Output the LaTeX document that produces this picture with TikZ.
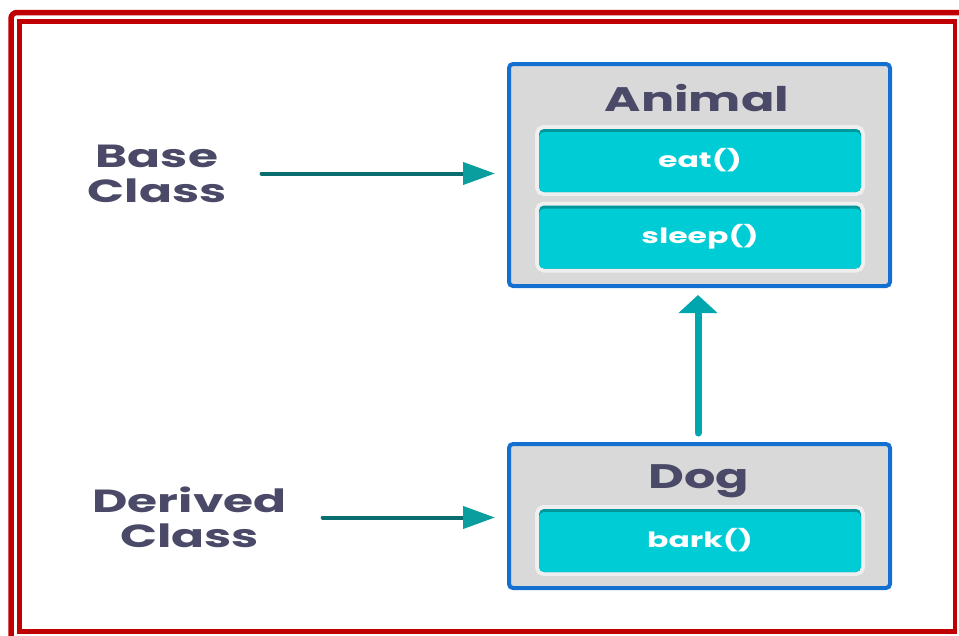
\documentclass[tikz,border=0pt]{standalone}
\usepackage{fontspec}
\setmainfont{Poppins}
\newfontfamily\titlefont[FakeStretch=1.45]{Poppins}
\newfontfamily\labelfont[FakeStretch=1.52]{Poppins}
\newfontfamily\methodfont[FakeStretch=1.5]{Poppins}
\usetikzlibrary{arrows.meta}

\definecolor{framered}{HTML}{C00000}
\definecolor{boxblue}{HTML}{1470D0}
\definecolor{boxgray}{HTML}{D9D9D9}
\definecolor{halo}{HTML}{EFEFEF}
\definecolor{cyanfill}{HTML}{00CCD6}
\definecolor{cyandark}{HTML}{00979C}
\definecolor{ink}{HTML}{4A4A68}
\definecolor{tealdark}{HTML}{0A6E6E}
\definecolor{teallight}{HTML}{0A9E9E}
\definecolor{tealup}{HTML}{00A6AE}

\tikzset{
  classbox/.style={draw=boxblue, line width=4pt, fill=boxgray, rounded corners=4pt,
    minimum width=381pt, inner sep=0pt},
  methodbox/.style={fill=cyandark, rounded corners=5pt, minimum width=322pt,
    minimum height=63pt, inner sep=0pt, text=white,
    font=\methodfont\bfseries\fontsize{21}{24}\selectfont,
    preaction={draw=halo, line width=8pt},
    path picture={\fill[cyanfill] ([yshift=-3pt]path picture bounding box.north west)
      rectangle (path picture bounding box.south east);}},
  titletext/.style={text=ink, inner sep=0pt, font=\titlefont\bfseries\fontsize{34}{36}\selectfont},
  sidelabel/.style={text=ink, inner sep=0pt, align=center,
    font=\labelfont\bfseries\fontsize{32}{35}\selectfont},
  sidearrow/.style={draw=tealdark, line width=4pt, line cap=round,
    -{Triangle[length=32pt, width=22pt, color=teallight]}},
  uparrow/.style={draw=tealup, line width=7pt, line cap=round,
    -{Triangle[length=18pt, width=38pt]}},
}

\begin{document}
\begin{tikzpicture}[x=1pt, y=-1pt]
\useasboundingbox (0,0) rectangle (959,635);

% double red frame
\draw[framered, line width=5.5pt, rounded corners=6pt] (11,12.5) rectangle (1000,700);
\draw[framered, line width=4.5pt] (19.5,21.5) rectangle (955,631.5);

% class boxes
\node[classbox, minimum height=222pt] (animal) at (699.5,175) {};
\node[classbox, minimum height=144pt] (dog) at (699.5,516) {};

% titles
\node[titletext] (animaltitle) at (697,98) {Animal};
\node[titletext] (dogtitle) at (699,481) {Dog};

% methods
\node[methodbox] (eat) at (700,160.5) {eat()};
\node[methodbox] (sleep) at (700,237) {sleep()};
\node[methodbox] (bark) at (700,540.5) {bark()};

% side labels
\node[sidelabel] (base) at (157,173.5) {Base\\Class};
\node[sidelabel] (derived) at (189.5,517.5) {Derived\\Class};

% arrows
\coordinate (axis) at (698,0);
\draw[sidearrow, shorten >=12pt] ([xshift=35pt]base.east) -- (base.east -| animal.west);
\draw[sidearrow, shorten >=12pt] ([xshift=36pt]derived.east) -- (derived.east -| dog.west);
\draw[uparrow, shorten <=9pt, shorten >=7pt] (dog.north -| axis) -- (animal.south -| axis);
\end{tikzpicture}
\end{document}
